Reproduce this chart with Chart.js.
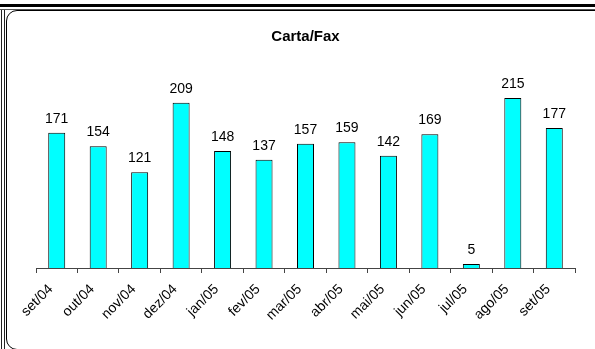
<!DOCTYPE html>
<html>
<head>
<meta charset="utf-8">
<script src="https://cdn.jsdelivr.net/npm/chart.js@4"></script>
<style>
    html, body { margin: 0; padding: 0; background: #fff; }
    .wrap { position: relative; width: 595px; height: 349px; overflow: hidden; }
    .topThick { position: absolute; left: 0; top: 4px; width: 595px; height: 3px; background: #000; }
    .topThin { position: absolute; left: 0; top: 9px; width: 595px; height: 1px; background: #555; }
    .leftA { position: absolute; left: 1px; top: 10px; width: 1px; height: 340px; background: #222; }
    .leftB { position: absolute; left: 4px; top: 10px; width: 1px; height: 340px; background: #222; }
    .panel { position: absolute; left: 6px; top: 10px; width: 610px; height: 338px; border: 1px solid #000; border-radius: 11px; }
    canvas { position: absolute; left: 0; top: 0; }
</style>
</head>
<body>
<div class="wrap">
    <div class="topThick"></div>
    <div class="topThin"></div>
    <div class="leftA"></div>
    <div class="leftB"></div>
    <div class="panel"></div>
    <canvas id="faxChart" width="595" height="349"></canvas>
</div>
<script>
const months = ['set/04', 'out/04', 'nov/04', 'dez/04', 'jan/05', 'fev/05', 'mar/05',
    'abr/05', 'mai/05', 'jun/05', 'jul/05', 'ago/05', 'set/05'];
const cartaFax = [171, 154, 121, 209, 148, 137, 157, 159, 142, 169, 5, 215, 177];
const yMin = 0;
const yMax = 250;

// Value labels above each bar
const barLabels = {
    id: 'barLabels',
    afterDatasetsDraw(chart) {
        const ctx = chart.ctx;
        const meta = chart.getDatasetMeta(0);
        ctx.save();
        ctx.font = '14px "Liberation Sans", Arial, sans-serif';
        ctx.fillStyle = '#000';
        ctx.textAlign = 'center';
        ctx.textBaseline = 'alphabetic';
        meta.data.forEach((bar, i) => {
            ctx.fillText(String(cartaFax[i]), bar.x, bar.y - 10);
        });
        ctx.restore();
    }
};

const ctx = document.getElementById('faxChart').getContext('2d');
new Chart(ctx, {
    type: 'bar',
    data: {
        labels: months,
        datasets: [{
            label: 'Carta/Fax',
            data: cartaFax,
            backgroundColor: '#00ffff',
            borderColor: '#000',
            borderWidth: 1,
            barPercentage: 0.41,
            categoryPercentage: 1
        }]
    },
    options: {
        responsive: false,
        animation: false,
        layout: { padding: { left: 36, right: 20, top: 0, bottom: 0 } },
        scales: {
            x: {
                grid: {
                    offset: true,
                    drawOnChartArea: false,
                    tickLength: 5,
                    color: '#444'
                },
                border: { display: true, color: '#444', width: 1 },
                ticks: {
                    color: '#000',
                    font: { family: '"Liberation Sans", Arial, sans-serif', size: 14 },
                    minRotation: 45,
                    maxRotation: 45,
                    autoSkip: false,
                    padding: 8,
                    labelOffset: -6
                },
                afterFit: (scale) => { scale.height = 81; }
            },
            y: {
                display: false,
                min: yMin,
                max: yMax
            }
        },
        plugins: {
            legend: { display: false },
            tooltip: { enabled: false },
            title: {
                display: true,
                text: 'Carta/Fax',
                color: '#000',
                font: { family: '"Liberation Sans", Arial, sans-serif', size: 15, weight: 'bold' },
                padding: { top: 27.5, bottom: 24.8 }
            }
        }
    },
    plugins: [barLabels]
});
</script>
</body>
</html>
